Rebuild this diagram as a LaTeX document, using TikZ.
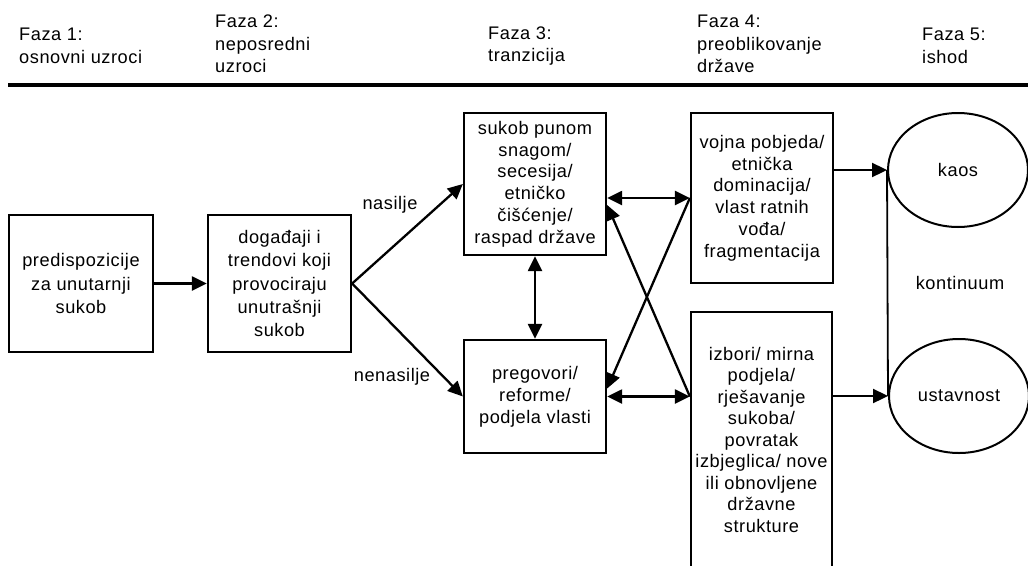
\documentclass[tikz,border=0pt]{standalone}
\usepackage{fontspec}
\setmainfont{Liberation Sans}[LetterSpace=3]
\usetikzlibrary{arrows.meta,shapes.geometric,calc}
\begin{document}
\begin{tikzpicture}[x=1pt,y=-1pt,
  every node/.style={font=\fontsize{18.2}{22.5}\selectfont},
  box/.style={draw,line width=2.3pt,align=center,inner sep=0pt},
  oval/.style={draw,ellipse,line width=2pt,inner sep=0pt,minimum width=140pt,minimum height=114pt},
  head/.style={anchor=west,align=left,inner sep=0pt},
  lbl/.style={inner sep=0pt},
  arr/.style={line width=2.3pt,-{Triangle[length=15pt,width=14pt]}},
  darr/.style={line width=2.3pt,{Triangle[length=15pt,width=14pt]}-{Triangle[length=15pt,width=14pt]}}]
\useasboundingbox (0,0) rectangle (1028,565);
\clip (0,0) rectangle (1028,565);
% header
\node[head] (h1) at (19,46) {Faza 1:\\osnovni uzroci};
\node[head] (h2) at (215,44) {Faza 2:\\neposredni\\uzroci};
\node[head] (h3) at (488,46) {Faza 3:\\tranzicija};
\node[head] (h4) at (697,44) {Faza 4:\\preoblikovanje\\države};
\node[head] (h5) at (922,46) {Faza 5:\\ishod};
\coordinate (hl) at (8,85);
\coordinate (hr) at (1030,85);
\draw[line width=4.5pt] (hl) -- (hr);
% boxes
\node[box,minimum width=144pt,minimum height=137pt,font=\fontsize{18.2}{23.3}\selectfont] (b1) at (81,283.5) {predispozicije\\za unutarnji\\sukob};
\node[box,minimum width=143pt,minimum height=137pt,font=\fontsize{18.2}{23.3}\selectfont] (b2) at (279.5,283.5) {događaji i\\trendovi koji\\provociraju\\unutrašnji\\sukob};
\node[box,minimum width=142pt,minimum height=142pt,font=\fontsize{18.2}{21.8}\selectfont] (b3) at (535,184) {sukob punom\\snagom/\\secesija/\\etničko\\čišćenje/\\raspad države};
\node[box,minimum width=142pt,minimum height=113pt,font=\fontsize{18.2}{21.8}\selectfont] (b4) at (535,396.5) {pregovori/\\reforme/\\podjela vlasti};
\node[box,minimum width=142pt,minimum height=170pt,font=\fontsize{18.2}{21.8}\selectfont] (b5) at (762,198) {vojna pobjeda/\\etnička\\dominacija/\\vlast ratnih\\vođa/\\fragmentacija};
\node[box,minimum width=141pt,minimum height=255pt,font=\fontsize{18.2}{21.5}\selectfont] (b6) at (761.5,439.5) {izbori/ mirna\\podjela/\\rješavanje\\sukoba/\\povratak\\izbjeglica/ nove\\ili obnovljene\\državne\\strukture};
\node[oval] (kaos) at (958,170) {kaos};
\node[oval] (ust) at (959,396) {ustavnost};
% labels
\node[lbl] (nas) at (390,205) {nasilje};
\node[lbl] (nenas) at (392,377) {nenasilje};
\node[lbl] (kont) at (960,283) {kontinuum};
% connectors
\draw[arr] (b1.east) -- (b2.west);
\draw[arr] (b2.east) -- (b3.west);
\draw[arr] (b2.east) -- (b4.west);
\draw[darr] (b3.south) -- (b4.north);
\draw[darr] (b3.east |- b5.west) -- (b5.west);
\draw[darr] (b4.east) -- (b6.west |- b4.east);
\draw[arr] (b5.west) -- ([yshift=8pt]b4.east);
\draw[arr] (b6.west |- b4.east) -- ([yshift=-21pt]b3.east);
\draw[arr] (b5.east |- kaos.west) -- (kaos.west);
\draw[arr] (b6.east |- ust.west) -- (ust.west);
\draw[line width=1.8pt] (kaos.west) -- (ust.west);
\end{tikzpicture}
\end{document}
